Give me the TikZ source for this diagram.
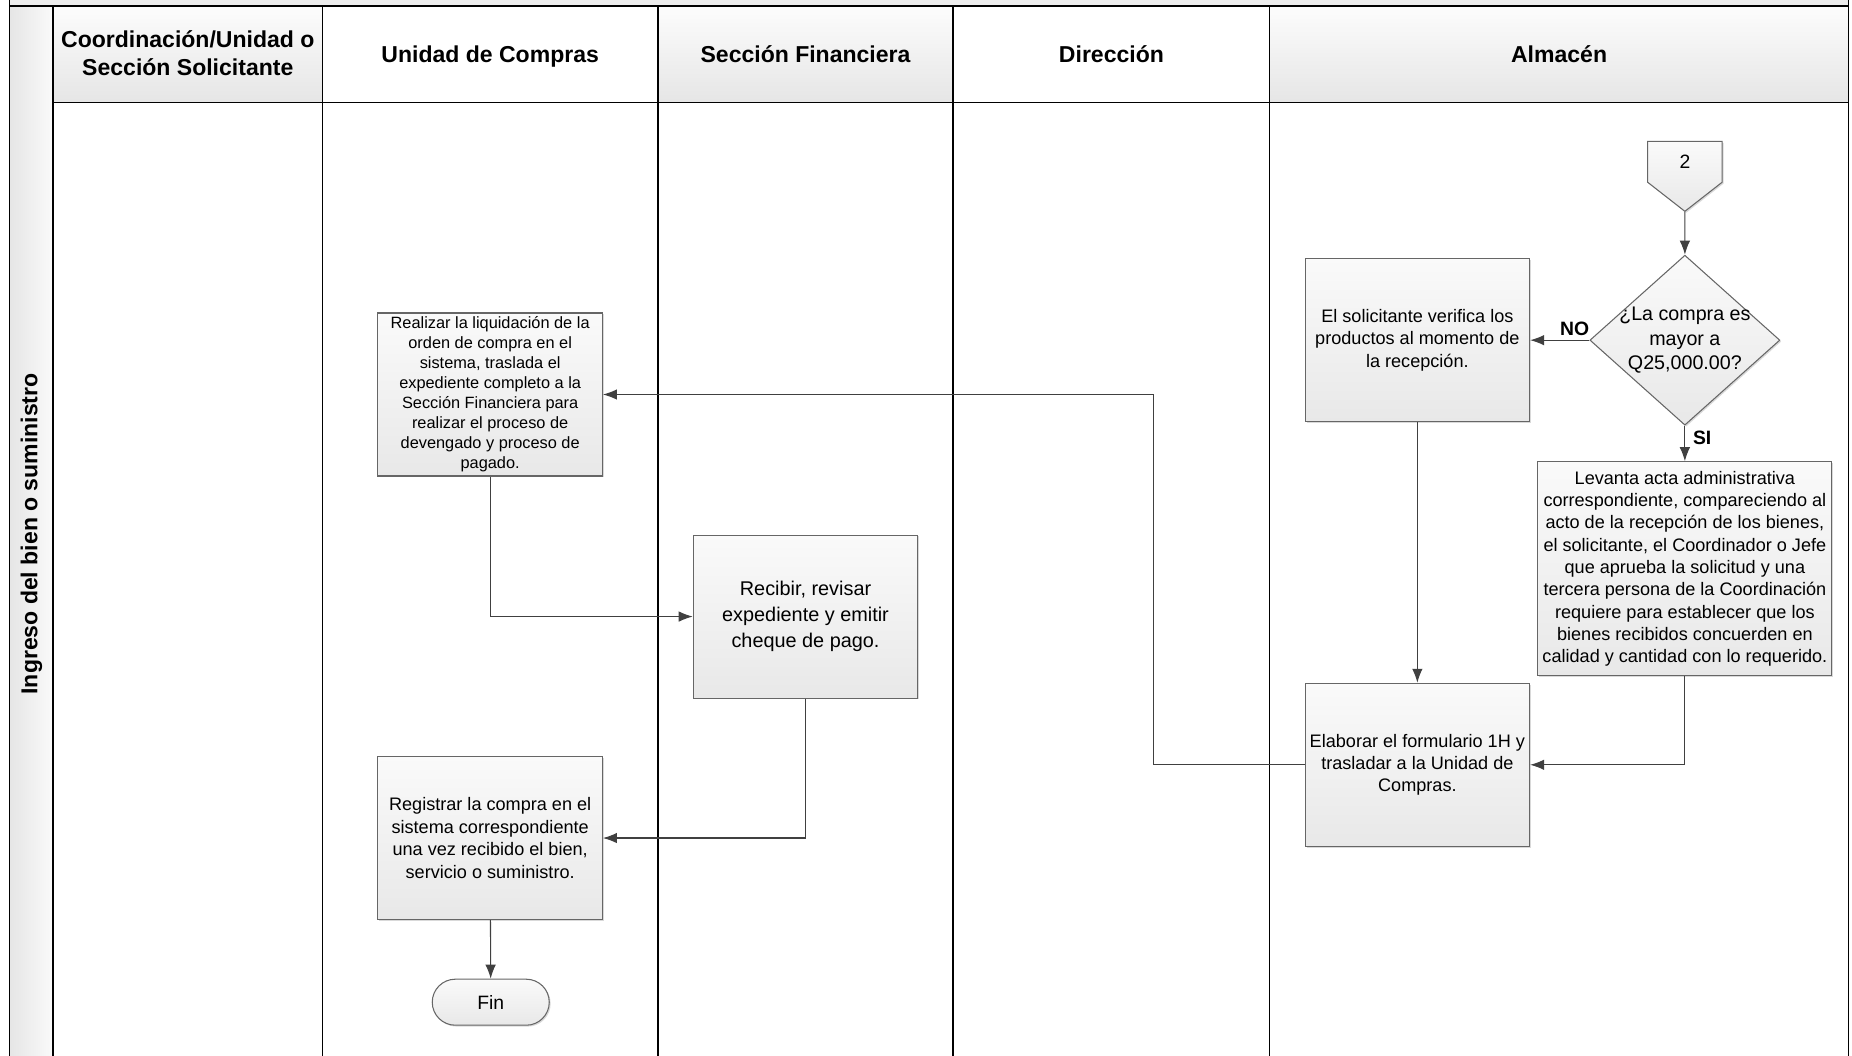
\documentclass[tikz,border=0pt]{standalone}
\usepackage{fontspec}
\setmainfont{Liberation Sans}
\usetikzlibrary{shapes.geometric,shapes.symbols,arrows.meta,shadows}
\begin{document}
\begin{tikzpicture}[x=.023622cm,y=-.023622cm,
 forma/.style={draw=black!60,line width=.6pt,top color=white!98!black,bottom color=white!91!black},
 sombra/.style={drop shadow={shadow xshift=.8pt,shadow yshift=-.8pt,opacity=.3}},
 tarea/.style={forma,sombra,minimum width=4.49cm,minimum height=3.26cm,inner sep=1pt,align=center,font=\fontsize{10.3}{12.7}\selectfont},
 flujo/.style={draw=black!75,line width=.6pt,-{Latex[length=2.8mm,width=2.1mm]}},
 resp/.style={font=\fontsize{11}{13}\selectfont\bfseries},
 carril/.style={font=\fontsize{13.1}{16}\selectfont\bfseries,align=center,text depth=.25em}]
\useasboundingbox (0,0) rectangle (1568,894);
% pool y carriles
\fill[black!7] (8,0) rectangle (1565,5);
\shade[left color=white!90!black,right color=white!98!black] (8,5) rectangle (45,894);
\foreach \a/\b in {45/273,557/807,1075/1565} \shade[top color=white!99!black,bottom color=white!90!black] (\a,5) rectangle (\b,87);
\draw[line width=.8pt] (8,0)--(8,894) (1565,0)--(1565,894) (8,5)--(1565,5) (45,87)--(1565,87);
\foreach \x in {45,273,557,807,1075} \draw[line width=.8pt] (\x,5)--(\x,894);
\path (26.5,452) node[carril,rotate=90] (pool) {Ingreso del bien o suministro}
 (159,47) node[carril] (hsol) {Coordinación/Unidad o\\Sección Solicitante}
 (415,48) node[carril] (hcom) {Unidad de Compras}
 (682,48) node[carril] (hfin) {Sección Financiera}
 (941,48) node[carril] (hdir) {Dirección}
 (1320,48) node[carril] (halm) {Almacén};
% almacen
\node[forma,sombra,signal,signal to=south,signal pointer angle=104,minimum width=1.49cm,minimum height=.9cm,inner sep=0pt,font=\fontsize{11}{13}\selectfont] (con2) at (1426.5,137) {2};
\node[forma,sombra,diamond,minimum width=3.8cm,minimum height=3.4cm,inner sep=0pt,
 label={[align=center,font=\fontsize{11.2}{13.8}\selectfont]center:{¿La compra es\\mayor a\\Q25,000.00?}}] (dec) at (1426.5,288) {};
\node[tarea] (sol) at (1200,288) {El solicitante verifica los\\productos al momento de\\la recepción.};
\node[tarea,minimum width=5.88cm,minimum height=4.28cm] (acta) at (1426.5,481.5) {Levanta acta administrativa\\correspondiente, compareciendo al\\acto de la recepción de los bienes,\\el solicitante, el Coordinador o Jefe\\que aprueba la solicitud y una\\tercera persona de la Coordinación\\requiere para establecer que los\\bienes recibidos concuerden en\\calidad y cantidad con lo requerido.};
\node[tarea] (elab) at (1200,647.5) {Elaborar el formulario 1H y\\trasladar a la Unidad de\\Compras.};
% compras y financiera
\node[tarea,font=\fontsize{9.3}{11.4}\selectfont] (liq) at (415,334) {Realizar la liquidación de la\\orden de compra en el\\sistema, traslada el\\expediente completo a la\\Sección Financiera para\\realizar el proceso de\\devengado y proceso de\\pagado.};
\node[tarea,font=\fontsize{11.3}{14.7}\selectfont] (rec) at (682,522) {Recibir, revisar\\expediente y emitir\\cheque de pago.};
\node[tarea,font=\fontsize{10.3}{13}\selectfont] (reg) at (415,709.5) {Registrar la compra en el\\sistema correspondiente\\una vez recibido el bien,\\servicio o suministro.};
\node[forma,sombra,rounded corners=.46cm,minimum width=2.34cm,minimum height=.92cm,font=\fontsize{11}{13}\selectfont] (fin) at (415.5,848.5) {Fin};
% flechas
\draw[flujo] (con2) -- (dec);
\draw[flujo] (dec.west) -- node[resp,above=-1pt,pos=.25] {NO} (sol.east);
\draw[flujo] (dec.south) -- node[resp,right=1pt,pos=.35] {SI} (acta.north);
\draw[flujo] (sol) -- (elab);
\draw[flujo] (acta) |- (elab);
\draw[flujo] (elab.west) -- ++(-128,0) |- (liq.east);
\draw[flujo] (liq) |- (rec);
\draw[flujo] (rec) |- (reg);
\draw[flujo] (reg) -- (fin);
\end{tikzpicture}
\end{document}
